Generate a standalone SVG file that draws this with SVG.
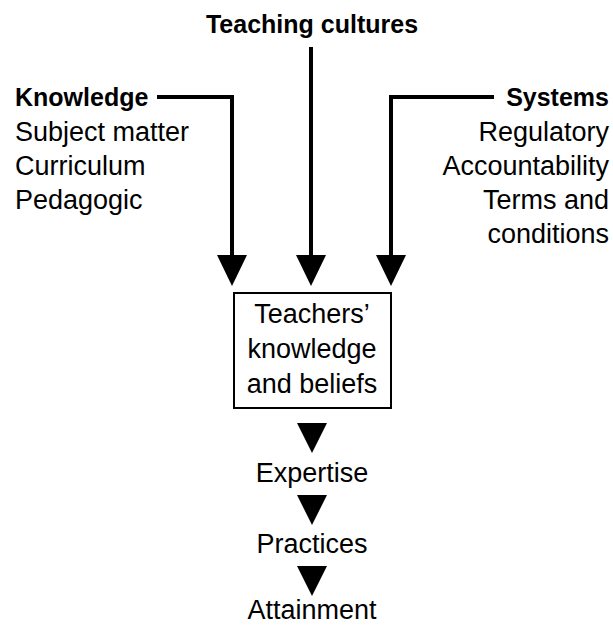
<svg xmlns="http://www.w3.org/2000/svg" width="613" height="625" viewBox="0 0 613 625">
<style>
text{font-family:"Liberation Sans",Arial,sans-serif;fill:#000;}
.b{font-weight:bold;font-size:25px;}
.r{font-size:27px;}
.line{fill:none;stroke:#000;stroke-width:4;}
.tri{fill:#000;}
</style>
<rect width="613" height="625" fill="#fff"/>
<g id="connectors">
<polyline class="line" points="157,97 232,97 232,257"/>
<polygon class="tri" points="217,255 247,255 232,286"/>
<line class="line" x1="311" y1="47" x2="311" y2="257"/>
<polygon class="tri" points="296,255 326,255 311,286"/>
<polyline class="line" points="494,97 391,97 391,257"/>
<polygon class="tri" points="376,255 406,255 391,286"/>
<polygon class="tri" points="297,423 327,423 312,453"/>
<polygon class="tri" points="297,495 327,495 312,525"/>
<polygon class="tri" points="297,566 327,566 312,596"/>
</g>
<g id="teaching-cultures"><text class="b" x="312" y="33" text-anchor="middle">Teaching cultures</text></g>
<g id="knowledge">
<text class="b" x="15" y="106">Knowledge</text>
<text class="r" x="15" y="141">Subject matter</text>
<text class="r" x="15" y="175">Curriculum</text>
<text class="r" x="15" y="209">Pedagogic</text>
</g>
<g id="systems" text-anchor="end">
<text class="b" x="609" y="106">Systems</text>
<text class="r" x="609" y="141">Regulatory</text>
<text class="r" x="609" y="175">Accountability</text>
<text class="r" x="609" y="209">Terms and</text>
<text class="r" x="609" y="243">conditions</text>
</g>
<g id="teachers" text-anchor="middle">
<rect x="234" y="293" width="157" height="115" fill="#fff" stroke="#000" stroke-width="2"/>
<text class="r" x="312" y="323">Teachers’</text>
<text class="r" x="312" y="358">knowledge</text>
<text class="r" x="312" y="393">and beliefs</text>
</g>
<g id="expertise"><text class="r" x="312" y="482" text-anchor="middle">Expertise</text></g>
<g id="practices"><text class="r" x="312" y="553" text-anchor="middle">Practices</text></g>
<g id="attainment"><text class="r" x="312" y="619" text-anchor="middle">Attainment</text></g>
</svg>
